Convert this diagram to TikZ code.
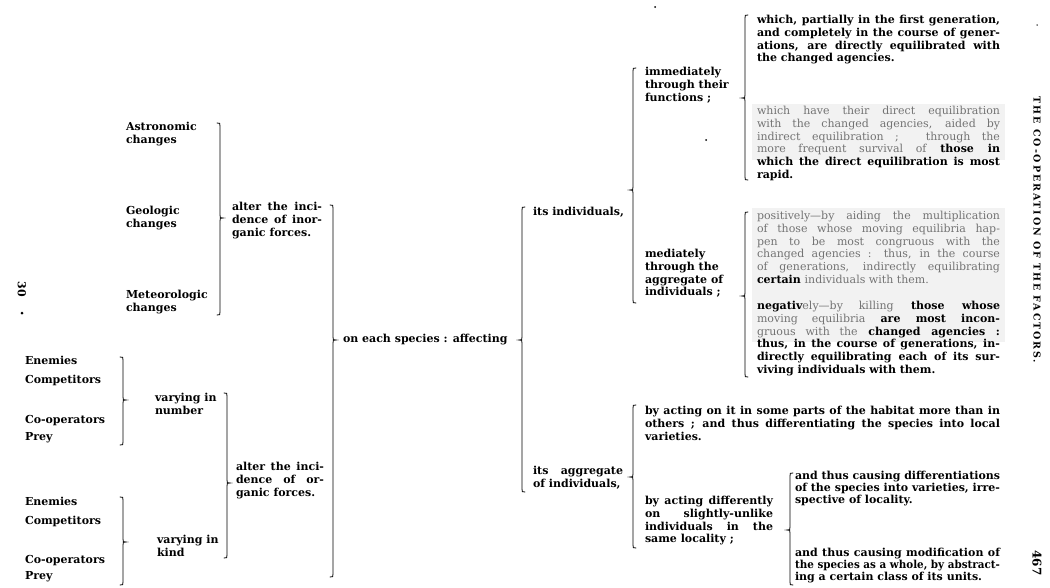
\documentclass[tikz,border=0pt]{standalone}
\usepackage{fontspec}
\setmainfont{DejaVu Serif}
\usepackage{xcolor}
\usepackage{graphicx}
\colorlet{faint}{black!55}
\newcommand\fnt{\color{faint}\mdseries}
\newsavebox\jlbox
\newcommand\JL[1]{\sbox\jlbox{#1}\ifdim\wd\jlbox>\jw\relax\resizebox{\jw}{\height}{\usebox\jlbox}\else\makebox[\jw][s]{#1}\fi}
\newcommand\rbr[4]{\draw[brc] (#1-3,#2) .. controls (#1,#2) .. (#1,#2+3) -- (#1,#3-3) .. controls (#1,#3) .. (#1+3,#3) .. controls (#1,#3) .. (#1,#3+3) -- (#1,#4-3) .. controls (#1,#4) .. (#1-3,#4);}
\newcommand\lbr[4]{\draw[brc] (#1+3,#2) .. controls (#1,#2) .. (#1,#2+3) -- (#1,#3-3) .. controls (#1,#3) .. (#1-3,#3) .. controls (#1,#3) .. (#1,#3+3) -- (#1,#4-3) .. controls (#1,#4) .. (#1+3,#4);}
\tikzset{
  txt/.style={anchor=north west, align=left, inner sep=0pt, outer sep=0pt,
    font=\fontsize{11}{12.7}\selectfont\bfseries},
  tight/.style={font=\fontsize{11}{12}\selectfont\bfseries},
  jw/.code={\def\jw{#1}},
  brc/.style={line width=0.8pt, line cap=round},
  speck/.style={fill=black, inner sep=0pt, circle, minimum size=2pt},
}
\begin{document}
\begin{tikzpicture}[x=1pt,y=-1pt]
\useasboundingbox (0,0) rectangle (1050,587);
\fill[white] (0,0) rectangle (1050,587);
% scan shading
\fill[black!5] (752,104) rectangle (1005,160);
\fill[black!5] (752,208) rectangle (1005,342);

% left column
\node[txt] (astro) at (126,122.5) {Astronomic\\changes};
\node[txt] (geo) at (126,206.5) {Geologic\\changes};
\node[txt] (meteo) at (126,290.5) {Meteorologic\\changes};
\node[txt, jw=90pt] (inorg) at (232,202.5) {\JL{alter the inci-}\\\JL{dence of inor-}\\ganic forces.};
\node[txt] (en1) at (25,356.5) {Enemies};
\node[txt] (cp1) at (25,375.5) {Competitors};
\node[txt] (co1) at (25,415.5) {Co-operators};
\node[txt] (pr1) at (25,432.5) {Prey};
\node[txt] (en2) at (25,497.5) {Enemies};
\node[txt] (cp2) at (25,516.5) {Competitors};
\node[txt] (co2) at (25,555.5) {Co-operators};
\node[txt] (pr2) at (25,571.5) {Prey};
\node[txt] (num) at (155,393.5) {varying in\\number};
\node[txt] (kind) at (157,535.5) {varying in\\kind};
\node[txt, jw=88pt] (org) at (236,462.5) {\JL{alter the inci-}\\\JL{dence of or-}\\ganic forces.};
\node[txt] (each) at (343,334.5) {on each species : affecting};
\node[txt] (indiv) at (533,207.5) {its individuals,};
\node[txt, jw=90pt] (aggr) at (533,466.5) {\JL{its aggregate}\\of individuals,};
\node[txt] (imm) at (645,67.5) {immediately\\through their\\functions ;};
\node[txt] (med) at (645,249.5) {mediately\\through the\\aggregate of\\individuals ;};

% right column
\node[txt, jw=243pt] (A) at (757,15.5) {\JL{which, partially in the first generation,}\\\JL{and completely in the course of gener-}\\\JL{ations, are directly equilibrated with}\\the changed agencies.};
\node[txt, jw=243pt] (B) at (757,106.5) {\JL{\fnt which have their direct equilibration}\\\JL{\fnt with the changed agencies, aided by}\\\JL{\fnt indirect equilibration ; \ through the}\\\JL{{\fnt more frequent survival of} those in}\\\JL{which the direct equilibration is most}\\rapid.};
\node[txt, jw=243pt] (C) at (757,211.5) {\JL{\fnt positively—by aiding the multiplication}\\\JL{\fnt of those whose moving equilibria hap-}\\\JL{\fnt pen to be most congruous with the}\\\JL{\fnt changed agencies : thus, in the course}\\\JL{\fnt of generations, indirectly equilibrating}\\certain {\fnt individuals with them.}};
\node[txt, jw=243pt] (D) at (757,301.5) {\JL{negativ{\fnt ely—by killing} those whose}\\\JL{{\fnt moving equilibria} are most incon-}\\\JL{{\fnt gruous with the} changed agencies :}\\\JL{thus, in the course of generations, in-}\\\JL{directly equilibrating each of its sur-}\\viving individuals with them.};
\node[txt, jw=355pt] (E) at (645,406.5) {\JL{by acting on it in some parts of the habitat more than in}\\\JL{others ; and thus differentiating the species into local}\\varieties.};
\node[txt, jw=128pt] (F) at (645,496.5) {\JL{by acting differently}\\\JL{on slightly-unlike}\\\JL{individuals in the}\\same locality ;};
\node[txt, tight, jw=205pt] (G) at (795,471.5) {\JL{and thus causing differentiations}\\\JL{of the species into varieties, irre-}\\spective of locality.};
\node[txt, tight, jw=205pt] (H) at (795,548.5) {\JL{and thus causing modification of}\\\JL{the species as a whole, by abstract-}\\ing a certain class of its units.};

% page furniture
\node[rotate=-90, font=\fontsize{11}{12}\selectfont\bfseries] (pg30) at (22,289) {30};
\node[speck, minimum size=3pt] (dot1) at (22,313) {};
\node[speck, minimum size=2pt] (dot2) at (655,7) {};
\node[speck, minimum size=2pt] (dot3) at (706,140) {};
\node[speck, minimum size=1.5pt] (dot4) at (1037,25) {};
\node[rotate=-90, font=\fontsize{9.5}{12}\selectfont\bfseries\addfontfeatures{LetterSpace=20}] (title) at (1037,230) {THE CO-OPERATION OF THE FACTORS.};
\node[rotate=-90, font=\fontsize{12}{12}\selectfont\bfseries] (p467) at (1037,563) {467};

% braces
\rbr{220}{123}{218}{315}
\rbr{123}{357}{400}{445}
\rbr{123}{497}{542}{585}
\rbr{227}{393}{483}{558}
\rbr{333}{205}{340}{577}
\lbr{522}{207}{340}{492}
\lbr{633}{68}{190}{303}
\lbr{745}{15}{98}{180}
\lbr{745}{212}{296}{377}
\lbr{633}{405}{477}{548}
\lbr{790}{473}{530}{585}
\end{tikzpicture}
\end{document}
